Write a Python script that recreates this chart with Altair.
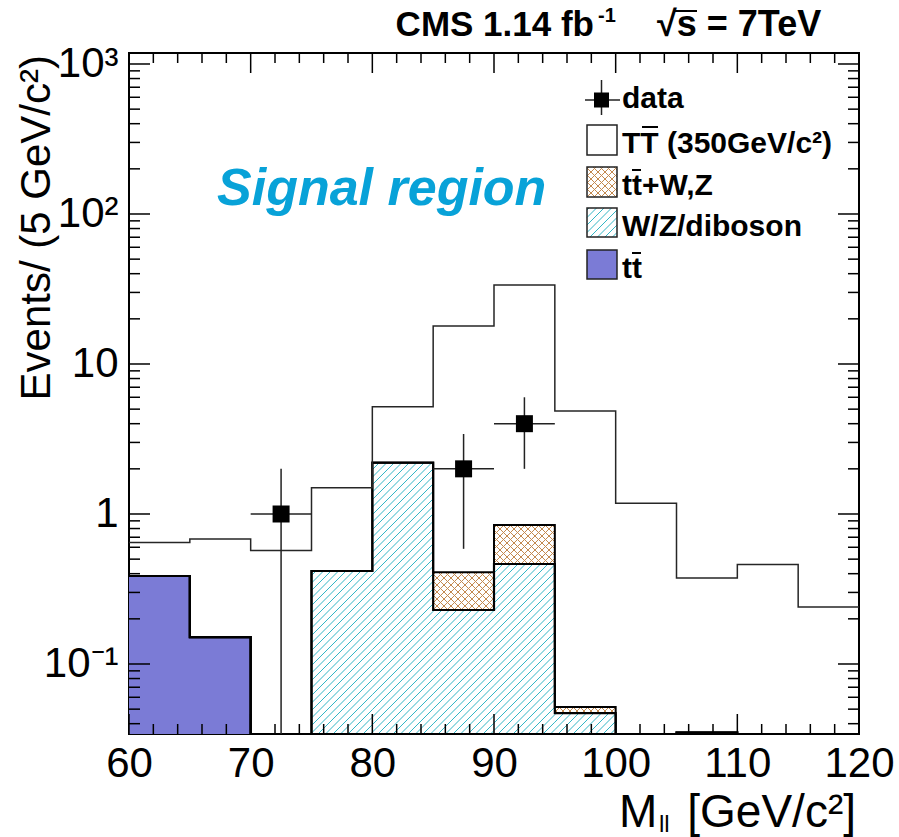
import math
import numpy as np
import pandas as pd
import altair as alt

# ---------------- values (events per 5 GeV/c^2) ----------------
bin_low = [60, 65, 70, 75, 80, 85, 90, 95, 100, 105, 110, 115]
bin_width = 5
ttbar = [0.386, 0.151, 0, 0, 0, 0, 0, 0, 0, 0, 0, 0]
vz_diboson = [0, 0, 0, 0.417, 2.20, 0.229, 0.464, 0.047, 0, 0.035, 0, 0]
ttbar_vz = [0, 0, 0, 0, 0, 0.18, 0.38, 0.0046, 0, 0, 0, 0]
signal_tt = [0.26, 0.53, 0.57, 1.08, 2.99, 17.5, 32.8, 4.81, 1.18, 0.34, 0.46, 0.24]

data_mass = [72.5, 87.5, 92.5]
data_count = [1, 2, 4]

x_tick_labels = [60, 70, 80, 90, 100, 110, 120]
y_tick_labels = [0.1, 1, 10, 100, 1000]

# ---------------- frame geometry and style ----------------
FONT = "Liberation Sans"
W, H = 730, 681
X_LO, X_HI = 60.0, 120.0
LOG_LO, LOG_HI = -1.4667, 3.0733
Y_LO, Y_HI = 10 ** LOG_LO, 10 ** LOG_HI

PURPLE = "#7b7bd6"
CYAN = "#33b6c6"
BROWN = "#c3894f"
SIGNAL_BLUE = "#08a2d8"

x_scale = alt.Scale(domain=[X_LO, X_HI], nice=False, zero=False)
y_scale = alt.Scale(type="log", domain=[Y_LO, Y_HI], nice=False)

y_label_expr = ("datum.value > 500 ? '10³' : datum.value > 50 ? '10²' : "
                "datum.value > 5 ? '10' : datum.value > 0.5 ? '1' : '10⁻¹'")

X_AXIS = alt.Axis(values=x_tick_labels, labelFontSize=42, labelFont=FONT,
                  labelColor="black", labelPadding=9, ticks=False, tickSize=0,
                  domain=False, grid=False, labelFlush=False,
                  labelOverlap=False, title=None, format="d")
Y_AXIS = alt.Axis(values=y_tick_labels, labelExpr=y_label_expr,
                  labelFontSize=42, labelFont=FONT, labelColor="black",
                  labelPadding=11, ticks=False, tickSize=0, domain=False,
                  grid=False, labelFlush=False, labelOverlap=False, title=None)


def px_x(x):
    return (x - X_LO) / (X_HI - X_LO) * W


def px_y(v):
    return (LOG_HI - math.log10(v)) / (LOG_HI - LOG_LO) * H


def val_x(p):
    return X_LO + p / W * (X_HI - X_LO)


def val_y(p):
    return 10 ** (LOG_HI - p / H * (LOG_HI - LOG_LO))


def floor(v):
    return max(v, Y_LO)


def enc(two=True):
    e = dict(x=alt.X("x:Q", scale=x_scale, axis=X_AXIS),
             y=alt.Y("y:Q", scale=y_scale, axis=Y_AXIS))
    if two:
        e["x2"] = alt.X2("x2:Q")
        e["y2"] = alt.Y2("y2:Q")
    return e


# ---------------- stacking ----------------
cum_tt = np.array(ttbar, dtype=float)
cum_vz = cum_tt + np.array(vz_diboson)
cum_ttv = cum_vz + np.array(ttbar_vz)
cum_all = cum_ttv + np.array(signal_tt)
edges = bin_low + [bin_low[-1] + bin_width]


def hatch(p0, p1, q0, q1, step, rising):
    """Diagonal hatch segments inside a pixel box (q0 top, q1 bottom)."""
    segs = []
    if rising:  # lines sx + sy = c
        cmin, cmax = p0 + q0, p1 + q1
        k = math.ceil(cmin / step)
        while k * step <= cmax:
            c = k * step
            lo, hi = max(p0, c - q1), min(p1, c - q0)
            if hi - lo > 0.3:
                segs.append((lo, c - lo, hi, c - hi))
            k += 1
    else:  # lines sx - sy = c
        cmin, cmax = p0 - q1, p1 - q0
        k = math.ceil(cmin / step)
        while k * step <= cmax:
            c = k * step
            lo, hi = max(p0, c + q0), min(p1, c + q1)
            if hi - lo > 0.3:
                segs.append((lo, lo - c, hi, hi - c))
            k += 1
    return segs


def seg_rows(segs, color):
    return [dict(x=val_x(a), y=val_y(b), x2=val_x(c), y2=val_y(d), c=color)
            for a, b, c, d in segs]


# filled ttbar region as one stepped area
tt_vals = [floor(v) for v in cum_tt] + [floor(cum_tt[-1])]
tt_area = pd.DataFrame({"x": edges, "y": tt_vals, "y2": [Y_LO] * len(edges)})

# hatched bins (W/Z single diagonal, ttbar+V crosshatch)
hatch_rows = []
for lo, b, t in zip(bin_low, cum_tt, cum_vz):
    if t - b > 0 and t > Y_LO:
        box = (px_x(lo), px_x(lo + bin_width), px_y(t), px_y(floor(b)))
        hatch_rows += seg_rows(hatch(*box, 7.5, True), CYAN)
for lo, b, t in zip(bin_low, cum_vz, cum_ttv):
    if t - b > 0 and t > Y_LO:
        box = (px_x(lo), px_x(lo + bin_width), px_y(t), px_y(floor(b)))
        hatch_rows += seg_rows(hatch(*box, 7.0, True), BROWN)
        hatch_rows += seg_rows(hatch(*box, 7.0, False), BROWN)

# legend boxes (pixel positions inside the frame)
LEG_P0, LEG_P1 = 458, 488
leg_boxes = {
    "signal": (72, 102, "white"),
    "ttv": (114, 144, "white"),
    "vz": (155, 184, "white"),
    "tt": (197, 226, PURPLE),
}
q0, q1, _ = leg_boxes["ttv"]
hatch_rows += seg_rows(hatch(LEG_P0, LEG_P1, q0, q1, 7.0, True), BROWN)
hatch_rows += seg_rows(hatch(LEG_P0, LEG_P1, q0, q1, 7.0, False), BROWN)
q0, q1, _ = leg_boxes["vz"]
hatch_rows += seg_rows(hatch(LEG_P0, LEG_P1, q0, q1, 7.5, True), CYAN)
hatch_df = pd.DataFrame(hatch_rows)

leg_rect_df = pd.DataFrame([
    dict(x=val_x(LEG_P0), x2=val_x(LEG_P1), y=val_y(q1), y2=val_y(q0), f=f)
    for q0, q1, f in leg_boxes.values()
])

# stack outlines as step lines
outline_rows = []
for name, cum, col, w in [("tt", cum_tt, "black", 2.2), ("vz", cum_vz, "black", 2.2),
                          ("ttv", cum_ttv, "black", 2.0), ("all", cum_all, "#262626", 1.5)]:
    vals = [floor(v) for v in cum] + [floor(cum[-1])]
    for e, v in zip(edges, vals):
        outline_rows.append(dict(x=e, y=v, s=name, c=col, w=w))
outline_df = pd.DataFrame(outline_rows)

# data points with sqrt(N) errors
err_rows, pts_rows = [], []
for m, n in zip(data_mass, data_count):
    e = math.sqrt(n)
    err_rows.append(dict(x=m - bin_width / 2, x2=m + bin_width / 2, y=n, y2=n))
    err_rows.append(dict(x=m, x2=m, y=floor(n - e), y2=n + e))
    pts_rows.append(dict(x=m, y=n, s=289))
# legend marker for data
err_rows.append(dict(x=val_x(456), x2=val_x(491), y=val_y(47), y2=val_y(47)))
err_rows.append(dict(x=val_x(472.5), x2=val_x(472.5), y=val_y(27), y2=val_y(62)))
pts_rows.append(dict(x=val_x(472.5), y=val_y(47), s=225))
err_df = pd.DataFrame(err_rows)
pts_df = pd.DataFrame(pts_rows)

# tick marks on all four sides, drawn inward
tick_rows = []
for xv in range(60, 121, 2):
    L = 20 if xv % 10 == 0 else 10
    tick_rows.append(dict(x=xv, x2=xv, y=Y_LO, y2=val_y(H - L), w=1.5))
    tick_rows.append(dict(x=xv, x2=xv, y=Y_HI, y2=val_y(L), w=1.5))
for k in range(-2, 4):
    for m in range(1, 10):
        v = m * 10.0 ** k
        if not (Y_LO <= v <= Y_HI):
            continue
        L = 21 if m == 1 else 11
        tick_rows.append(dict(x=X_LO, x2=val_x(L), y=v, y2=v, w=1.5))
        tick_rows.append(dict(x=X_HI, x2=val_x(W - L), y=v, y2=v, w=1.5))
# overbars for anti-quarks and sqrt(s)
for p0, p1, q in [(513, 529, 74), (503, 512, 117), (503, 512, 200), (545, 568, -42)]:
    tick_rows.append(dict(x=val_x(p0), x2=val_x(p1), y=val_y(q), y2=val_y(q), w=2.0))
tick_df = pd.DataFrame(tick_rows)

# ---------------- layers ----------------
tt_layer = alt.Chart(tt_area).mark_area(interpolate="step-after", color=PURPLE,
                                        opacity=1).encode(
    y2=alt.Y2("y2:Q"), **enc(False))
leg_fill = alt.Chart(leg_rect_df).mark_rect().encode(
    fill=alt.Fill("f:N", scale=None), **enc())
hatch_layer = alt.Chart(hatch_df).mark_rule(strokeWidth=1.0).encode(
    color=alt.Color("c:N", scale=None), **enc())
outline_layer = alt.Chart(outline_df).mark_line(interpolate="step-after").encode(
    detail="s:N",
    color=alt.Color("c:N", scale=None),
    strokeWidth=alt.StrokeWidth("w:Q", scale=None),
    **enc(False),
)
leg_edge = alt.Chart(leg_rect_df).mark_rect(fillOpacity=0, stroke="#222222",
                                            strokeWidth=1.5).encode(**enc())
err_layer = alt.Chart(err_df).mark_rule(color="#222222", strokeWidth=1.5).encode(**enc())
pts_layer = alt.Chart(pts_df).mark_square(color="black", opacity=1, filled=True).encode(
    size=alt.Size("s:Q", scale=None), **enc(False))
tick_layer = alt.Chart(tick_df).mark_rule(color="black").encode(
    strokeWidth=alt.StrokeWidth("w:Q", scale=None), **enc())


def label(txt, px, py, size, weight="normal", style="normal", color="black",
          align="left", angle=0):
    kw = dict(font=FONT, fontSize=size, fontWeight=weight, fontStyle=style,
              color=color, align=align, baseline="alphabetic")
    if angle:
        kw["angle"] = angle
    return alt.Chart(pd.DataFrame({"t": [txt]})).mark_text(**kw).encode(
        x=alt.value(px), y=alt.value(py), text="t:N")


texts = [
    label("CMS 1.14 fb", 465, -17, 35, "bold", align="right"),
    label("-1", 469, -31, 20, "bold"),
    label("√s = 7TeV", 528, -17, 36, "bold"),
    label("Signal region", 88, 152, 52, "bold", "italic", SIGNAL_BLUE),
    label("data", 493, 55, 30, "bold"),
    label("TT (350GeV/c²)", 493, 100, 30, "bold"),
    label("tt+W,Z", 493, 142, 30, "bold"),
    label("W/Z/diboson", 493, 183, 30, "bold"),
    label("tt", 493, 225, 30, "bold"),
    label("Events/ (5 GeV/c²)", -79, 2, 42, angle=270, align="right"),
    label("M", 490, 774, 46),
    label("ll", 530, 779, 24),
    label("[GeV/c²]", 727, 774, 46, align="right"),
]

chart = alt.layer(
    tt_layer, leg_fill, hatch_layer, outline_layer, leg_edge,
    err_layer, pts_layer, tick_layer, *texts
).properties(
    width=W, height=H,
    padding={"left": 129, "top": 53, "right": 40, "bottom": 103},
    autosize=alt.AutoSizeParams(type="none"),
).configure_view(stroke="black", strokeWidth=2)

chart.save("out.html", embed_options={"renderer": "svg", "actions": False})
